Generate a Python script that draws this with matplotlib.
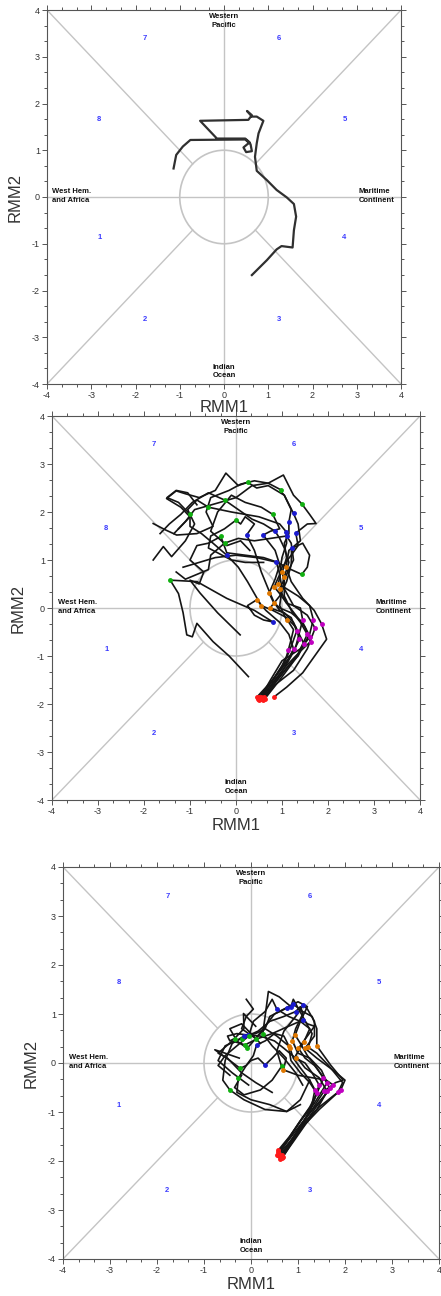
import matplotlib
matplotlib.use('Agg')
import matplotlib.pyplot as plt
import numpy as np
from matplotlib.ticker import AutoMinorLocator
from matplotlib.patches import Circle

plt.rcParams['font.family'] = ['Liberation Sans', 'DejaVu Sans']

# ---------------- data ----------------
# Panel 1: observed trajectory
obs_rmm1 = [0.63, 0.97, 1.19, 1.30, 1.55, 1.58, 1.63, 1.58, 1.42, 1.19, 0.97, 0.74, 0.70, 0.74,
            0.78, 0.89, 0.74, 0.63, 0.52, 0.63, 0.55, -0.54, -0.16, 0.48, 0.58, 0.44, 0.50, 0.63,
            0.60, 0.48, -0.76, -0.93, -1.08, -1.14]
obs_rmm2 = [-1.67, -1.35, -1.12, -1.05, -1.08, -0.71, -0.42, -0.15, -0.01, 0.15, 0.36, 0.56, 0.86,
            1.15, 1.36, 1.63, 1.72, 1.72, 1.84, 1.75, 1.65, 1.63, 1.25, 1.25, 1.17, 1.06, 0.96, 0.98,
            1.13, 1.23, 1.22, 1.08, 0.90, 0.61]

# Panel 2: ensemble members
ens2_rmm1 = [
    [0.83, 1.10, 1.45, 1.97, 1.86, 1.70, 1.45, 1.20, 1.09, 1.15, 1.40, 1.35, 1.25, 1.05, 0.70, 0.45,
     0.25, 0.05, -0.22, -0.45, -0.80, -1.10, -1.30, -1.51, -1.20, -1.00, -1.25],
    [0.58, 0.85, 1.25, 1.55, 1.72, 1.55, 1.25, 1.05, 1.01, 1.10, 1.05, 1.15, 1.15, 1.20, 1.05, 1.00,
     0.98, 0.70, 0.40, 0.10, -0.15, -0.55, -0.65, -0.50, -0.85, -1.29, -1.54, -1.80],
    [0.62, 0.95, 1.30, 1.60, 1.68, 1.60, 1.35, 1.10, 0.92, 1.00, 1.20, 1.35, 1.30, 1.55, 1.74, 1.60,
     1.43, 1.25, 1.03, 0.70, 0.35, 0.00, -0.35, -0.90, -1.10, -1.35],
    [0.45, 0.75, 1.05, 1.30, 1.45, 1.40, 1.10, 0.95, 0.83, 0.95, 1.00, 1.10, 1.09, 0.95, 0.50, -0.10,
     -0.60, -0.85, -1.05, -0.90, -1.10, -1.40, -1.58, -1.80],
    [0.55, 0.80, 1.05, 1.20, 1.32, 1.20, 0.95, 0.80, 0.72, 0.85, 0.95, 0.85, 0.59, 0.75, 0.95, 0.85,
     0.80, 0.55, 0.20, -0.10, -0.40, -0.55, -0.20, 0.10, 0.30],
    [0.52, 0.75, 1.00, 1.40, 1.61, 1.45, 1.20, 0.95, 0.83, 0.70, 0.55, 0.40, 0.23, 0.40, 0.20, 0.10,
     0.00, -0.25, -0.55, -0.60, -0.30, -0.10, 0.20, 0.60],
    [0.60, 0.85, 1.10, 1.35, 1.48, 1.35, 1.25, 1.05, 0.74, 0.95, 1.10, 1.20, 1.21, 1.45, 1.60, 1.55,
     1.43, 1.20, 0.90, 0.45, 0.00, -0.45, -0.80, -1.15],
    [0.50, 0.80, 1.00, 1.10, 1.14, 1.20, 1.25, 1.15, 1.10, 0.95, 1.00, 0.95, 0.88, 0.60, 0.20, -0.20,
     -0.33, -0.60, -0.85, -1.00, -0.70, -0.80, -1.00, -0.78, -0.40, 0.09],
    [0.48, 0.72, 0.95, 1.15, 1.25, 1.15, 0.95, 0.65, 0.45, 0.25, 0.40, 0.60, 0.80, 0.40, -0.20, -0.85,
     -1.43, -1.25, -1.15, -1.07, -0.95, -0.85, -0.50, -0.15, 0.27],
    [0.55, 0.80, 1.05, 1.35, 1.55, 1.40, 1.20, 1.05, 1.05, 1.15, 1.05, 0.95, 0.85, 0.60, 0.35, 0.05,
     -0.25, -0.60, -0.95, -1.20, -1.45, -1.65],
    [0.60, 0.90, 1.15, 1.40, 1.62, 1.50, 1.30, 1.10, 0.95, 1.10, 1.25, 1.20, 1.10, 0.75, 0.40, 0.05,
     -0.25, -0.55, -0.60, -0.85, -1.10, -1.30],
    [0.50, 0.78, 1.02, 1.20, 1.38, 1.30, 1.10, 0.80, 0.55, 0.40, 0.25, 0.05, -0.20, -0.50, -0.75, -1.00,
     -1.00, -1.25, -1.50, -1.30, -1.05, -0.85],
]
ens2_rmm2 = [
    [-1.85, -1.65, -1.35, -0.65, -0.33, -0.05, 0.20, 0.55, 0.86, 1.20, 1.40, 1.75, 1.97, 2.35, 2.55,
     2.50, 2.62, 2.55, 2.81, 2.45, 2.30, 2.38, 2.44, 2.28, 2.10, 1.90, 1.65],
    [-1.92, -1.60, -1.30, -0.85, -0.42, -0.15, 0.05, 0.40, 0.76, 1.05, 1.35, 1.55, 1.79, 2.05, 2.35,
     2.40, 2.46, 2.60, 2.65, 2.58, 2.45, 2.30, 2.00, 1.70, 1.55, 1.52, 1.63, 1.76],
    [-1.90, -1.50, -1.05, -0.55, -0.24, 0.05, 0.25, 0.40, 0.51, 0.85, 1.10, 1.30, 1.56, 1.75, 1.76,
     1.95, 2.17, 2.35, 2.77, 2.60, 2.55, 2.30, 2.20, 2.05, 1.80, 1.55],
    [-1.86, -1.55, -1.20, -0.80, -0.25, 0.00, 0.10, 0.30, 0.44, 0.70, 1.05, 1.35, 1.59, 1.75, 1.90,
     2.00, 2.10, 2.25, 2.05, 1.75, 1.40, 1.07, 1.28, 1.00],
    [-1.85, -1.50, -1.15, -0.80, -0.48, -0.20, -0.05, 0.15, 0.31, 0.60, 0.90, 1.20, 1.52, 1.60, 1.65,
     1.85, 1.95, 2.10, 2.20, 2.35, 2.00, 1.60, 1.30, 1.40, 1.20],
    [-1.88, -1.50, -1.10, -0.85, -0.60, -0.30, -0.10, 0.00, 0.11, 0.40, 0.75, 1.20, 1.52, 1.75, 1.90,
     1.75, 1.83, 1.65, 1.50, 1.25, 1.10, 1.00, 0.95, 0.95],
    [-1.88, -1.55, -1.25, -1.00, -0.75, -0.50, -0.30, -0.10, 0.00, 0.25, 0.55, 0.90, 1.24, 1.35, 1.10,
     0.85, 0.70, 0.80, 0.95, 1.05, 1.10, 1.05, 0.95, 0.85],
    [-1.86, -1.50, -1.20, -1.00, -0.87, -0.65, -0.45, -0.30, -0.25, 0.05, 0.40, 0.70, 0.96, 1.05, 1.10,
     1.15, 1.49, 1.35, 1.30, 1.00, 0.75, 0.50, 0.58, 0.31, -0.10, -0.56],
    [-1.90, -1.60, -1.30, -1.05, -0.85, -0.55, -0.30, -0.05, 0.17, 0.05, -0.15, -0.25, -0.29, -0.05,
     0.20, 0.55, 0.58, 0.30, -0.10, -0.56, -0.60, -0.32, -0.70, -1.00, -1.43],
    [-1.90, -1.55, -1.25, -0.95, -0.55, -0.30, -0.05, 0.25, 0.65, 0.95, 1.25, 1.45, 1.60, 1.75, 1.85,
     2.05, 2.25, 2.40, 2.20, 1.95, 1.75, 1.55],
    [-1.86, -1.50, -1.20, -0.90, -0.70, -0.40, -0.15, 0.10, 0.40, 0.70, 1.00, 1.35, 1.50, 1.45, 1.40,
     1.45, 1.35, 1.10, 0.80, 0.70, 0.60, 0.75],
    [-1.92, -1.60, -1.30, -1.00, -0.65, -0.40, -0.20, -0.05, 0.05, 0.30, 0.55, 0.85, 1.10, 1.35, 1.55,
     1.70, 1.95, 2.20, 2.30, 2.45, 2.40, 2.15],
]

# Panel 3: ensemble members
ens3_rmm1 = [
    [0.60, 0.88, 1.15, 1.45, 1.91, 2.00, 1.75, 1.40, 1.15, 1.35, 1.35, 1.20, 1.11, 0.95, 0.70, 0.55,
     0.65, 0.45, 0.20, -0.15, -0.35, -0.20],
    [0.62, 0.90, 1.15, 1.40, 1.68, 1.55, 1.35, 1.15, 1.01, 1.20, 1.35, 1.20, 1.11, 0.80, 0.45, 0.15,
     -0.13, -0.40, -0.70, -0.50, -0.20, 0.10, 0.45],
    [0.58, 0.82, 1.05, 1.30, 1.54, 1.40, 1.20, 1.05, 0.94, 1.05, 1.20, 1.00, 0.76, 0.50, 0.30, 0.10,
     -0.08, -0.30, -0.45, -0.20, 0.00, 0.20],
    [0.68, 0.90, 1.10, 1.28, 1.36, 1.25, 1.05, 0.90, 0.83, 0.70, 0.50, 0.30, 0.12, 0.05, -0.10, -0.20,
     -0.27, -0.30, 0.00, 0.40, 0.76, 1.05],
    [0.55, 0.82, 1.10, 1.40, 1.75, 1.60, 1.30, 1.00, 0.69, 0.75, 0.60, 0.45, 0.30, 0.15, 0.00, -0.10,
     -0.23, -0.45, -0.77, -0.55, -0.25],
    [0.65, 0.88, 1.10, 1.30, 1.45, 1.30, 1.15, 1.05, 0.95, 0.70, 0.50, 0.20, -0.06, -0.30, -0.50, -0.45,
     -0.35, -0.15, -0.16, -0.05, 0.10],
    [0.60, 0.88, 1.15, 1.45, 1.85, 1.95, 1.65, 1.40, 1.22, 1.30, 1.10, 0.90, 0.85, 0.60, 0.37, 0.30,
     0.25, 0.45, 0.70, 0.95, 1.10],
    [0.57, 0.83, 1.08, 1.35, 1.62, 1.50, 1.25, 1.00, 0.88, 0.95, 1.10, 1.05, 0.95, 0.70, 0.40, 0.15,
     -0.20, -0.55, -0.70, -0.40, -0.05],
    [0.63, 0.85, 1.08, 1.32, 1.55, 1.80, 1.96, 1.70, 1.40, 1.40, 1.30, 1.10, 0.90, 0.60, 0.40, 0.30,
     0.10, -0.20, -0.10, 0.05, -0.10],
    [0.57, 0.80, 1.02, 1.25, 1.40, 1.25, 1.05, 0.85, 0.80, 0.55, 0.30, 0.10, -0.15, -0.40, -0.55, -0.60,
     -0.45, -0.15, 0.30, 0.76, 1.05, 1.25],
    [0.66, 0.92, 1.16, 1.40, 1.62, 1.45, 1.15, 0.95, 1.12, 1.25, 1.05, 0.80, 0.55, 0.45, 0.30, 0.05,
     -0.05, -0.30, -0.55, -0.70, -0.45],
]
ens3_rmm2 = [
    [-1.85, -1.55, -1.20, -0.90, -0.55, -0.35, -0.15, 0.10, 0.30, 0.55, 0.85, 1.10, 1.18, 0.95, 0.65,
     0.25, -0.07, -0.35, -0.55, -0.65, -0.50, -0.25],
    [-1.95, -1.58, -1.22, -0.88, -0.52, -0.30, -0.05, 0.10, 0.30, 0.55, 0.75, 0.80, 0.88, 0.75, 0.60,
     0.50, 0.37, 0.45, 0.20, 0.10, -0.20, -0.40, -0.60],
    [-1.78, -1.50, -1.18, -0.85, -0.31, -0.10, 0.15, 0.40, 0.57, 0.85, 1.15, 1.25, 1.12, 1.00, 0.75,
     0.50, 0.30, 0.45, 0.70, 0.80, 0.60, 0.40],
    [-1.92, -1.58, -1.25, -0.92, -0.55, -0.35, -0.10, 0.10, 0.30, 0.55, 0.60, 0.45, 0.37, 0.15, -0.05,
     -0.20, -0.31, -0.60, -0.75, -0.85, -0.99, -0.85],
    [-1.88, -1.55, -1.20, -0.85, -0.45, -0.35, -0.30, -0.25, -0.14, 0.10, 0.25, 0.10, -0.04, 0.10, 0.05,
     -0.05, -0.11, 0.05, 0.27, 0.20, 0.10],
    [-1.88, -1.55, -1.22, -0.88, -0.45, -0.20, 0.00, 0.05, 0.10, 0.30, 0.45, 0.55, 0.57, 0.60, 0.55,
     0.45, 0.50, 0.70, 1.01, 0.90, 0.75],
    [-1.90, -1.58, -1.25, -0.95, -0.60, -0.40, -0.05, 0.20, 0.32, 0.60, 0.95, 1.30, 1.15, 1.35, 1.46,
     0.95, 0.60, 0.35, 0.10, -0.20, -0.45],
    [-1.82, -1.50, -1.15, -0.82, -0.40, -0.15, 0.10, 0.20, 0.45, 0.70, 1.00, 1.15, 1.05, 0.95, 0.85,
     0.65, 0.50, 0.35, 0.05, -0.20, -0.45],
    [-1.90, -1.58, -1.25, -0.92, -0.58, -0.40, -0.35, -0.05, 0.35, 0.70, 0.95, 1.05, 1.20, 1.05, 0.95,
     0.70, 0.50, 0.70, 0.95, 1.10, 1.30],
    [-1.88, -1.55, -1.22, -0.90, -0.62, -0.40, -0.20, 0.05, 0.35, 0.55, 0.70, 0.60, 0.55, 0.40, 0.05,
     -0.35, -0.55, -0.75, -0.95, -0.99, -0.75, -0.35],
    [-1.93, -1.58, -1.25, -0.95, -0.58, -0.30, -0.10, 0.15, 0.42, 0.70, 0.85, 0.95, 1.10, 1.30, 1.05,
     0.85, 0.55, 0.35, 0.15, -0.05, -0.25],
]

marker_steps = [0, 4, 8, 12, 16]
marker_colors = ['#ff1a1a', '#c000c0', '#e07800', '#1a1ad0', '#10b010']

phase_labels = ['1', '2', '3', '4', '5', '6', '7', '8']
phase_rmm1 = [-2.82, -1.78, 1.25, 2.72, 2.72, 1.25, -1.78, -2.82]
phase_rmm2 = [-0.86, -2.61, -2.61, -0.86, 1.65, 3.40, 3.40, 1.65]

region_texts = ['Western\nPacific', 'Indian\nOcean', 'West Hem.\nand Africa', 'Maritime\nContinent']
region_rmm1 = [0.0, 0.0, -3.88, 3.04]
region_rmm2 = [3.77, -3.73, 0.02, 0.02]
region_ha = ['center', 'center', 'left', 'left']

tick_values = [-4, -3, -2, -1, 0, 1, 2, 3, 4]

# ---------------- figure ----------------
W, H = 441, 1296
fig = plt.figure(figsize=(W / 100, H / 100), dpi=100)

def px_axes(left, top, right, bottom):
    return fig.add_axes([left / W, 1 - bottom / H, (right - left) / W, (bottom - top) / H])

GRID = '#c4c4c4'
FRAME = '#555555'

def base(ax, xlab_y, ylab_x):
    ax.set_xlim(-4, 4)
    ax.set_ylim(-4, 4)
    ax.plot([-4, 4], [0, 0], color=GRID, lw=1.0, zorder=1)
    ax.plot([0, 0], [-4, 4], color=GRID, lw=1.0, zorder=1)
    r = np.sqrt(0.5)
    for sx in (-1, 1):
        for sy in (-1, 1):
            ax.plot([sx * 4, sx * r], [sy * 4, sy * r], color=GRID, lw=1.0, zorder=1)
    ax.add_patch(Circle((0, 0), 1.0, fill=False, ec=GRID, lw=1.2, zorder=1))
    for lab, x, y in zip(phase_labels, phase_rmm1, phase_rmm2):
        ax.text(x, y, lab, color='#3a3aff', fontsize=5.5, ha='center', va='center',
                fontweight='bold', zorder=2)
    for t, x, y, ha in zip(region_texts, region_rmm1, region_rmm2, region_ha):
        ax.text(x, y, t, fontsize=5.5, ha=ha, va='center',
                multialignment='left' if ha == 'left' else 'center',
                color='#111111', fontweight='bold', linespacing=1.35, zorder=2)
    ax.set_xticks(tick_values)
    ax.set_yticks(tick_values)
    ax.set_xticklabels([str(v) for v in tick_values])
    ax.set_yticklabels([str(v) for v in tick_values])
    ax.xaxis.set_minor_locator(AutoMinorLocator(3))
    ax.yaxis.set_minor_locator(AutoMinorLocator(3))
    ax.tick_params(which='both', direction='out', top=True, right=True, color=FRAME,
                   labelsize=6.5, labelcolor='#333333', width=0.7, pad=1.5)
    ax.tick_params(which='major', length=3.5)
    ax.tick_params(which='minor', length=2)
    for s in ax.spines.values():
        s.set_color(FRAME)
        s.set_linewidth(0.8)
    ax.set_xlabel('RMM1', fontsize=12, color='#333333')
    ax.set_ylabel('RMM2', fontsize=12, color='#333333')
    ax.xaxis.set_label_coords(0.5, xlab_y)
    ax.yaxis.set_label_coords(ylab_x, 0.5)

ax1 = px_axes(47, 10, 401, 384)
ax2 = px_axes(52, 416, 420, 800)
ax3 = px_axes(63, 867, 439, 1259)

base(ax1, -0.042, -0.068)
base(ax2, -0.047, -0.071)
base(ax3, -0.046, -0.066)

ax1.plot(obs_rmm1, obs_rmm2, color='#303030', lw=1.6, solid_joinstyle='round', zorder=3)

def ensemble(ax, xs, ys):
    for x, y in zip(xs, ys):
        ax.plot(x, y, color='#151515', lw=1.2, solid_joinstyle='round', zorder=3)
    for x, y in zip(xs, ys):
        for k, c in zip(marker_steps, marker_colors):
            if k < len(x):
                ax.plot(x[k], y[k], 'o', ms=2.5, color=c, mec=c, zorder=4)

ensemble(ax2, ens2_rmm1, ens2_rmm2)
ensemble(ax3, ens3_rmm1, ens3_rmm2)

fig.savefig('out.png', dpi=100)
